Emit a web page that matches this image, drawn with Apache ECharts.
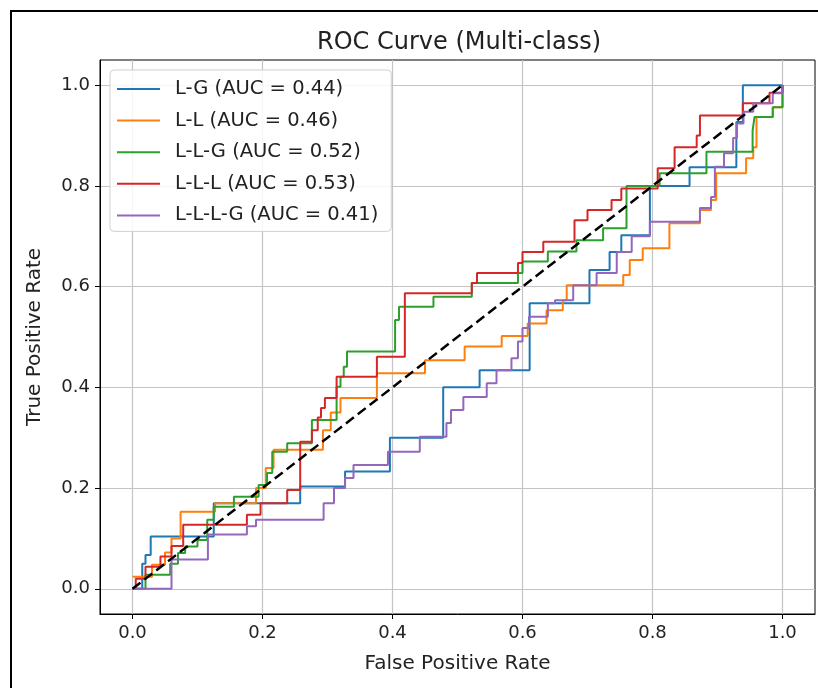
<!DOCTYPE html>
<html>
<head>
<meta charset="utf-8">
<script src="https://cdn.jsdelivr.net/npm/echarts@6/dist/echarts.min.js"></script>
<style>
  html, body { margin: 0; padding: 0; background: #fff; }
  #main { width: 818px; height: 688px; }
</style>
</head>
<body>
<div id="main"></div>
<script>
// ROC points: at each fpr the curve steps up to tpr
var lgFpr = [0, 0.015, 0.02, 0.028, 0.125, 0.258, 0.327, 0.396, 0.478, 0.534, 0.611, 0.703, 0.734, 0.752, 0.796, 0.857, 0.929, 0.939, 1.0];
var lgTpr = [0, 0.05, 0.067, 0.104, 0.17, 0.203, 0.233, 0.30, 0.40, 0.434, 0.567, 0.633, 0.669, 0.702, 0.80, 0.837, 0.927, 1.0, 1.0];

var llFpr = [0, 0.03, 0.05, 0.06, 0.074, 0.127, 0.19, 0.205, 0.217, 0.293, 0.305, 0.32, 0.376, 0.45, 0.511, 0.568, 0.608, 0.637, 0.662, 0.668, 0.755, 0.765, 0.785, 0.826, 0.873, 0.89, 0.898, 0.944, 0.955, 0.96, 0.985, 1.0];
var llTpr = [0.024, 0.048, 0.072, 0.10, 0.153, 0.17, 0.20, 0.24, 0.276, 0.315, 0.35, 0.379, 0.428, 0.454, 0.481, 0.502, 0.527, 0.553, 0.573, 0.603, 0.623, 0.653, 0.676, 0.726, 0.752, 0.772, 0.825, 0.855, 0.877, 0.937, 0.956, 1.0];

var llgFpr = [0, 0.02, 0.058, 0.07, 0.081, 0.10, 0.115, 0.125, 0.156, 0.194, 0.207, 0.215, 0.238, 0.276, 0.314, 0.32, 0.325, 0.33, 0.404, 0.41, 0.463, 0.522, 0.593, 0.60, 0.639, 0.683, 0.724, 0.76, 0.811, 0.883, 0.954, 0.957, 0.985, 1.0];
var llgTpr = [0, 0.028, 0.05, 0.071, 0.084, 0.097, 0.137, 0.163, 0.183, 0.206, 0.23, 0.272, 0.289, 0.335, 0.401, 0.421, 0.441, 0.471, 0.534, 0.56, 0.58, 0.607, 0.627, 0.65, 0.67, 0.692, 0.716, 0.80, 0.825, 0.868, 0.91, 0.937, 0.956, 1.0];

var lllFpr = [0, 0.005, 0.02, 0.043, 0.06, 0.078, 0.176, 0.197, 0.238, 0.258, 0.276, 0.285, 0.29, 0.296, 0.314, 0.376, 0.419, 0.522, 0.53, 0.593, 0.60, 0.632, 0.68, 0.70, 0.737, 0.752, 0.808, 0.834, 0.868, 0.873, 0.939, 0.98, 1.0];
var lllTpr = [0, 0.02, 0.044, 0.064, 0.085, 0.127, 0.147, 0.17, 0.196, 0.292, 0.315, 0.34, 0.359, 0.379, 0.421, 0.461, 0.587, 0.607, 0.627, 0.647, 0.669, 0.689, 0.732, 0.752, 0.772, 0.795, 0.835, 0.877, 0.90, 0.94, 0.964, 0.985, 1.0];

var lllgFpr = [0, 0.06, 0.116, 0.176, 0.19, 0.294, 0.31, 0.327, 0.34, 0.393, 0.442, 0.483, 0.49, 0.509, 0.545, 0.56, 0.583, 0.593, 0.60, 0.61, 0.639, 0.65, 0.678, 0.714, 0.745, 0.768, 0.796, 0.873, 0.89, 0.896, 0.91, 0.924, 0.93, 0.94, 0.955, 0.985, 1.0];
var lllgTpr = [0, 0.058, 0.108, 0.124, 0.137, 0.17, 0.2, 0.22, 0.246, 0.272, 0.302, 0.329, 0.355, 0.381, 0.408, 0.434, 0.458, 0.491, 0.518, 0.54, 0.567, 0.573, 0.603, 0.627, 0.669, 0.70, 0.729, 0.756, 0.778, 0.838, 0.865, 0.895, 0.924, 0.947, 0.964, 0.984, 1.0];

var names = ['L-G (AUC = 0.44)', 'L-L (AUC = 0.46)', 'L-L-G (AUC = 0.52)', 'L-L-L (AUC = 0.53)', 'L-L-L-G (AUC = 0.41)'];
var colors = ['#1f77b4', '#ff7f0e', '#2ca02c', '#d62728', '#9467bd'];
var tickVals = [0, 0.2, 0.4, 0.6, 0.8, 1.0];

function pairs(xs, ys) {
    var out = [];
    for (var i = 0; i < xs.length; i++) out.push([xs[i], ys[i]]);
    return out;
}

var curves = [pairs(lgFpr, lgTpr), pairs(llFpr, llTpr), pairs(llgFpr, llgTpr), pairs(lllFpr, lllTpr), pairs(lllgFpr, lllgTpr)];

var font = 'DejaVu Sans';
var myChart = echarts.init(document.getElementById('main'));

var series = [];
for (var k = 0; k < curves.length; k++) {
    series.push({
        name: names[k],
        type: 'line',
        step: 'end',
        showSymbol: false,
        data: curves[k],
        color: colors[k],
        lineStyle: { width: 2, color: colors[k] },
        animation: false
    });
}
// chance diagonal
series.push({
    type: 'line',
    data: [[0, 0], [1, 1]],
    showSymbol: false,
    lineStyle: { color: '#000', width: 2.5, type: [10, 5] },
    animation: false
});

var axisCommon = {
    type: 'value',
    min: -0.05,
    max: 1.05,
    axisLine: { show: true, onZero: false, lineStyle: { color: '#000', width: 1 } },
    axisTick: { show: true, length: 5, customValues: tickVals, lineStyle: { color: '#000' } },
    axisLabel: {
        customValues: tickVals,
        formatter: function (v) { return v.toFixed(1); },
        color: '#222', fontFamily: font, fontSize: 18, margin: 10
    },
    splitLine: { show: true, lineStyle: { color: '#c4c4c4', width: 1.2 } },
    nameLocation: 'middle',
    nameTextStyle: { color: '#222', fontFamily: font, fontSize: 20 }
};

var option = {
    backgroundColor: '#fff',
    animation: false,
    title: {
        text: 'ROC Curve (Multi-class)',
        left: 454, top: 26, textAlign: 'center',
        textStyle: { fontFamily: font, fontSize: 24, fontWeight: 'normal', color: '#222' }
    },
    legend: {
        orient: 'vertical',
        left: 110, top: 70,
        data: names,
        icon: 'path://M0,0H43V2H0Z M52.99,0H53V2H52.99Z',
        itemWidth: 53, itemHeight: 2.5,
        itemGap: 11.6,
        padding: [9, 13, 6, 7],
        backgroundColor: 'rgba(255,255,255,0.85)',
        borderColor: '#d0d0d0', borderWidth: 1, borderRadius: 4,
        textStyle: { fontFamily: font, fontSize: 19.5, color: '#222', lineHeight: 20 }
    },
    grid: {
        left: 100, top: 60, right: 3, bottom: 74,
        show: true, borderColor: '#000', borderWidth: 1
    },
    xAxis: Object.assign({}, axisCommon, { name: 'False Positive Rate', nameGap: 40 }),
    yAxis: Object.assign({}, axisCommon, { name: 'True Positive Rate', nameGap: 55 }),
    graphic: [{
        type: 'rect',
        shape: { x: 11, y: 11, width: 1000, height: 1000 },
        style: { fill: 'none', stroke: '#000', lineWidth: 2 },
        silent: true
    }],
    series: series
};

myChart.setOption(option);
</script>
</body>
</html>
